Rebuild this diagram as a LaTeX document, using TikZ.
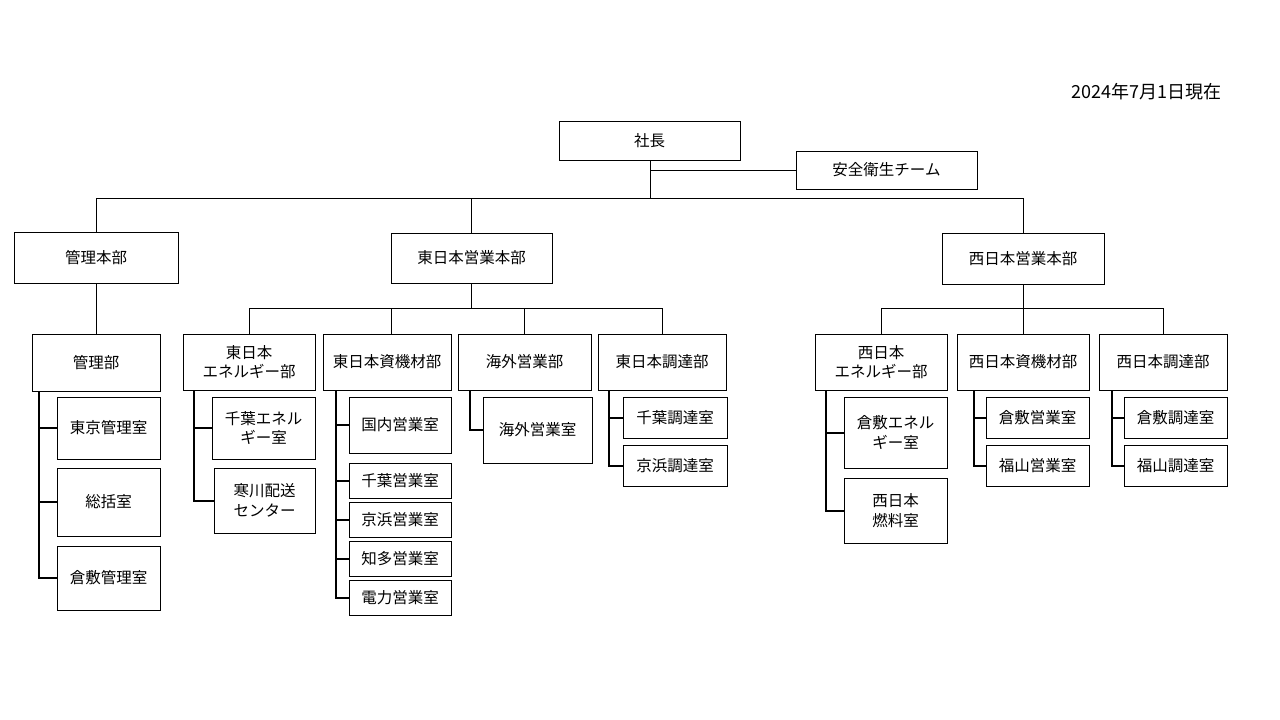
\documentclass[tikz,border=0pt]{standalone}
\usepackage{fontspec}
\newfontfamily\jp{Noto Sans CJK JP}
\begin{document}
\begin{tikzpicture}[x=1pt,y=-1pt,
  box/.style={draw=black,line width=0.9pt,rectangle,inner sep=1pt,align=center,
    font=\jp\fontsize{15.5pt}{19.5pt}\selectfont},
  link/.style={draw=black,line width=0.9pt},
  elbow/.style={draw=black,line width=2pt}]
\useasboundingbox (0,0) rectangle (1280,720);
\fill[white] (0,0) rectangle (1280,720);

\node[anchor=east,inner sep=0pt,font=\jp\fontsize{18pt}{20pt}\selectfont] (date) at (1222,92) {2024年7月1日現在};

\node[box,minimum width=181pt,minimum height=39pt] (pres) at (649.5,140.5) {社長};
\node[box,minimum width=181pt,minimum height=38pt] (safety) at (886.5,170) {安全衛生チーム};

\node[box,minimum width=164pt,minimum height=51pt] (hq1) at (96,257.5) {管理本部};
\node[box,minimum width=161pt,minimum height=50pt] (hq2) at (471.5,258) {東日本営業本部};
\node[box,minimum width=162pt,minimum height=51pt] (hq3) at (1023,258.5) {西日本営業本部};

\node[box,minimum width=128pt,minimum height=57pt] (d1) at (96,362.5) {管理部};
\node[box,minimum width=132pt,minimum height=56pt] (d2) at (249,362) {東日本\\エネルギー部};
\node[box,minimum width=128pt,minimum height=56pt] (d3) at (387,362) {東日本資機材部};
\node[box,minimum width=133pt,minimum height=56pt] (d4) at (524.5,362) {海外営業部};
\node[box,minimum width=128pt,minimum height=56pt] (d5) at (662,362) {東日本調達部};
\node[box,minimum width=132pt,minimum height=56pt] (d6) at (881,362) {西日本\\エネルギー部};
\node[box,minimum width=132pt,minimum height=56pt] (d7) at (1023,362) {西日本資機材部};
\node[box,minimum width=128pt,minimum height=56pt] (d8) at (1163,362) {西日本調達部};

% 管理部 children
\node[box,minimum width=103pt,minimum height=62pt] (k1) at (108.5,428) {東京管理室};
\node[box,minimum width=103pt,minimum height=68pt] (k2) at (108.5,502) {総括室};
\node[box,minimum width=103pt,minimum height=64pt] (k3) at (108.5,578) {倉敷管理室};
% 東日本エネルギー部 children
\node[box,minimum width=103pt,minimum height=62pt] (e1) at (263.5,428) {千葉エネル\\ギー室};
\node[box,minimum width=101pt,minimum height=65pt] (e2) at (264.5,500.5) {寒川配送\\センター};
% 東日本資機材部 children
\node[box,minimum width=102pt,minimum height=56pt] (s1) at (400,425) {国内営業室};
\node[box,minimum width=102pt,minimum height=35pt] (s2) at (400,480.5) {千葉営業室};
\node[box,minimum width=102pt,minimum height=35pt] (s3) at (400,519.5) {京浜営業室};
\node[box,minimum width=102pt,minimum height=35pt] (s4) at (400,558.5) {知多営業室};
\node[box,minimum width=102pt,minimum height=35pt] (s5) at (400,597.5) {電力営業室};
% 海外営業部 child
\node[box,minimum width=109pt,minimum height=66pt] (o1) at (537.5,430) {海外営業室};
% 東日本調達部 children
\node[box,minimum width=104pt,minimum height=41pt] (c1) at (675,417.5) {千葉調達室};
\node[box,minimum width=104pt,minimum height=41pt] (c2) at (675,465.5) {京浜調達室};
% 西日本エネルギー部 children
\node[box,minimum width=103pt,minimum height=71pt] (w1) at (895.5,432.5) {倉敷エネル\\ギー室};
\node[box,minimum width=103pt,minimum height=65pt] (w2) at (895.5,510.5) {西日本\\燃料室};
% 西日本資機材部 children
\node[box,minimum width=103pt,minimum height=41pt] (m1) at (1037.5,417.5) {倉敷営業室};
\node[box,minimum width=103pt,minimum height=41pt] (m2) at (1037.5,465.5) {福山営業室};
% 西日本調達部 children
\node[box,minimum width=103pt,minimum height=41pt] (p1) at (1175.5,417.5) {倉敷調達室};
\node[box,minimum width=103pt,minimum height=41pt] (p2) at (1175.5,465.5) {福山調達室};

% top connectors
\coordinate (bar) at (0,198);
\coordinate (pbar) at ([xshift=0.5pt]pres.south |- bar);
\draw[link] ([xshift=0.5pt]pres.south) -- (pbar);
\draw[link] ([xshift=0.5pt]pres.south |- safety.west) -- (safety.west);
\draw[link] (hq1.north) -- (hq1.north |- bar) -- (hq3.north |- bar) -- (hq3.north);
\draw[link] (hq2.north) -- (hq2.north |- bar);

% level 3 connectors
\draw[link] (hq1.south) -- (d1.north);
\coordinate (bar2) at (0,308);
\draw[link] (hq2.south) -- (hq2.south |- bar2);
\draw[link] (d2.north) -- (d2.north |- bar2) -- (d5.north |- bar2) -- (d5.north);
\draw[link] ([xshift=4pt]d3.north) -- ([xshift=4pt]d3.north |- bar2);
\draw[link] (d4.north) -- (d4.north |- bar2);
\draw[link] (hq3.south) -- (d7.north);
\draw[link] (d6.north) -- (d6.north |- bar2) -- (d8.north |- bar2) -- (d8.north);

% elbows
\coordinate (t1) at (39,391);
\draw[elbow] (t1) |- (k3.west);
\draw[elbow] (t1 |- k1.west) -- (k1.west);
\draw[elbow] (t1 |- k2.west) -- (k2.west);

\coordinate (t2) at (194,390);
\draw[elbow] (t2) |- (e2.west);
\draw[elbow] (t2 |- e1.west) -- (e1.west);

\coordinate (t3) at (336,390);
\draw[elbow] (t3) |- (s5.west);
\draw[elbow] (t3 |- s1.west) -- (s1.west);
\draw[elbow] (t3 |- s2.west) -- (s2.west);
\draw[elbow] (t3 |- s3.west) -- (s3.west);
\draw[elbow] (t3 |- s4.west) -- (s4.west);

\coordinate (t4) at (470,390);
\draw[elbow] (t4) |- (o1.west);

\coordinate (t5) at (609,390);
\draw[elbow] (t5) |- (c2.west);
\draw[elbow] (t5 |- c1.west) -- (c1.west);

\coordinate (t6) at (826,390);
\draw[elbow] (t6) |- (w2.west);
\draw[elbow] (t6 |- w1.west) -- (w1.west);

\coordinate (t7) at (974,390);
\draw[elbow] (t7) |- (m2.west);
\draw[elbow] (t7 |- m1.west) -- (m1.west);

\coordinate (t8) at (1112,390);
\draw[elbow] (t8) |- (p2.west);
\draw[elbow] (t8 |- p1.west) -- (p1.west);
\end{tikzpicture}
\end{document}
